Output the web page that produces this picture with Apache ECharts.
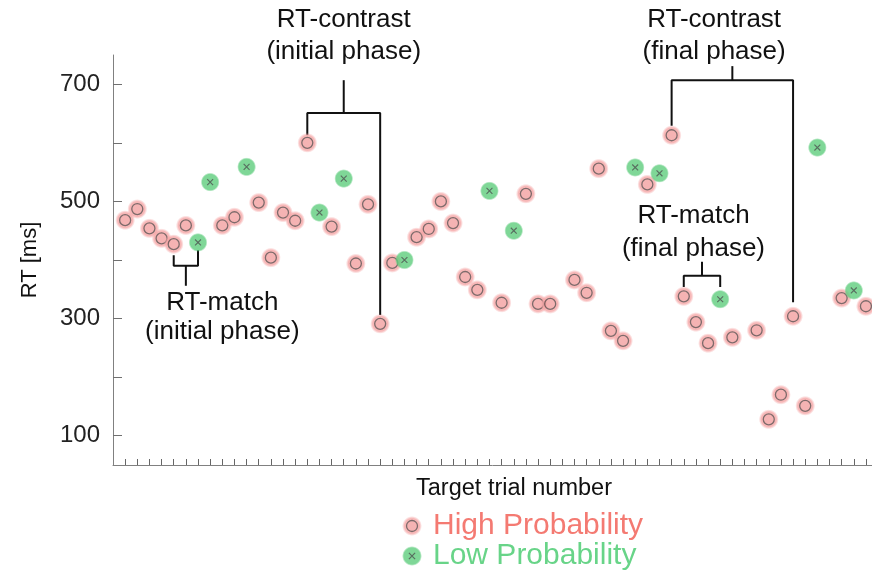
<!DOCTYPE html>
<html><head><meta charset="utf-8">
<script src="https://cdn.jsdelivr.net/npm/echarts@6/dist/echarts.min.js"></script>
<style>html,body{margin:0;padding:0;background:#fff}#c{width:872px;height:575px}</style>
</head><body><div id="c"></div>
<script>
// ---- data ----
const xTicks = [1,2,3,4,5,6,7,8,9,10,11,12,13,14,15,16,17,18,19,20,21,22,23,24,25,26,27,28,29,30,31,32,33,34,35,36,37,38,39,40,41,42,43,44,45,46,47,48,49,50,51,52,53,54,55,56,57,58,59,60,61,62];
const yTicks = [100,200,300,400,500,600,700];
const yTickLabels = [100,300,500,700];
const highTrials = [1,2,3,4,5,6,9,10,12,13,14,15,16,18,20,21,22,23,25,26,27,28,29,30,32,34,35,36,38,39,40,41,42,44,46,47,48,49,51,53,54,55,56,57,60,62];
const highRT = [468,487,454,437,427,459,459,473,498,404,481,467,600,457,394,495,291,395,439,453,500,463,371,349,327,513,325,325,366,344,556,279,262,529,613,338,294,258,268,280,128,170,304,151,335,321];
const lowTrials = [7,8,11,17,19,24,31,33,43,45,50,58,61];
const lowRT = [430,533,559,481,539,400,518,450,558,548,333,592,348];

// annotation brackets (data coordinates)
const brackets = [
  [[16,613],[16,651],[22,651],[22,306]],
  [[19,651],[19,707]],
  [[46,629],[46,707],[56,707],[56,328]],
  [[51,707],[51,731]],
  [[5,408],[5,390],[7,390],[7,417]],
  [[6,390],[6,356]],
  [[47,354],[47,373],[50,373],[50,354]],
  [[48.5,373],[48.5,397]]
];
const annotations = [
  {x:19, y:810, text:'RT-contrast'},
  {x:19, y:755, text:'(initial phase)'},
  {x:49.5, y:810, text:'RT-contrast'},
  {x:49.5, y:755, text:'(final phase)'},
  {x:9, y:327, text:'RT-match'},
  {x:9, y:278, text:'(initial phase)'},
  {x:47.8, y:475, text:'RT-match'},
  {x:47.8, y:419, text:'(final phase)'}
];

const FONT = "'Liberation Sans', Arial, Helvetica, sans-serif";
const pinkSvg = '<svg xmlns="http://www.w3.org/2000/svg" width="40" height="40" viewBox="0 0 40 40">' +
  '<defs><radialGradient id="h" cx="50%" cy="50%" r="50%"><stop offset="0.75" stop-color="#f5a6a6"/><stop offset="1" stop-color="#f5a6a6" stop-opacity="0"/></radialGradient></defs>' +
  '<circle cx="20" cy="20" r="20" fill="url(#h)"/>' +
  '<circle cx="20" cy="20" r="11" fill="#f3a0a0" stroke="#5e4646" stroke-width="2.6"/></svg>';
const greenSvg = '<svg xmlns="http://www.w3.org/2000/svg" width="40" height="40" viewBox="0 0 40 40">' +
  '<defs><radialGradient id="g" cx="50%" cy="50%" r="50%"><stop offset="0.82" stop-color="#5fcd7e"/><stop offset="1" stop-color="#5fcd7e" stop-opacity="0"/></radialGradient></defs>' +
  '<circle cx="20" cy="20" r="20" fill="url(#g)"/>' +
  '<path d="M13.8 13.8L26.2 26.2M26.2 13.8L13.8 26.2" stroke="#2f4a38" stroke-width="2.4" fill="none"/></svg>';
function svgUri(s){ return 'image://data:image/svg+xml;charset=utf-8,' + encodeURIComponent(s); }

const chart = echarts.init(document.getElementById('c'), null, {renderer:'canvas'});

const lineSeries = brackets.map(b => ({
  type:'line', data:b, symbol:'none', showSymbol:false, silent:true, clip:false, z:1,
  lineStyle:{color:'#111', width:2}, animation:false
}));

function legendFor(name, color, top) {
  return {
    orient:'vertical', left:397, top:top, itemWidth:20, itemHeight:20,
    textStyle:{fontSize:30, fontFamily:FONT, color:color, padding:[0,0,0,6]},
    data:[{name:name}]
  };
}

chart.setOption({
  animation:false,
  textStyle:{fontFamily:FONT},
  grid:{left:113, top:55, right:0, height:410, containLabel:false},
  xAxis:{
    type:'value', min:0, max:62.5,
    name:'Target trial number', nameLocation:'middle', nameGap:12,
    nameTextStyle:{fontSize:23.5, color:'#111', fontFamily:FONT, padding:[0,0,0,43]},
    axisLine:{show:true, lineStyle:{color:'#808080', width:1}},
    axisTick:{show:true, inside:true, length:6, customValues:xTicks, lineStyle:{color:'#666', width:1}},
    axisLabel:{show:false},
    splitLine:{show:false}
  },
  yAxis:{
    type:'value', min:50, max:750,
    name:'RT [ms]', nameLocation:'middle', nameGap:72,
    nameTextStyle:{fontSize:22, color:'#111', fontFamily:FONT},
    axisLine:{show:true, lineStyle:{color:'#808080', width:1}},
    axisTick:{show:true, inside:true, length:9, customValues:yTicks, lineStyle:{color:'#707070', width:1}},
    axisLabel:{show:true, customValues:yTickLabels, fontSize:24, color:'#222', margin:13, fontFamily:FONT},
    splitLine:{show:false}
  },
  legend:[
    legendFor('High Probability', '#f47a72', 506),
    legendFor('Low Probability', '#68d488', 536)
  ],
  series: lineSeries.concat([
    {name:'High Probability', type:'scatter', symbol:svgUri(pinkSvg), symbolSize:20, z:3,
     data: highTrials.map((t,i)=>[t, highRT[i]])},
    {name:'Low Probability', type:'scatter', symbol:svgUri(greenSvg), symbolSize:19, z:4,
     data: lowTrials.map((t,i)=>[t, lowRT[i]])}
  ])
});

const graphics = annotations.map(a => {
  const p = chart.convertToPixel({xAxisIndex:0, yAxisIndex:0}, [a.x, a.y]);
  return {type:'text', x:p[0], y:p[1], silent:true, z:10,
    style:{text:a.text, fill:'#111', font:'26px ' + FONT, textAlign:'center', textVerticalAlign:'middle'}};
});
chart.setOption({graphic:graphics});
</script></body></html>
